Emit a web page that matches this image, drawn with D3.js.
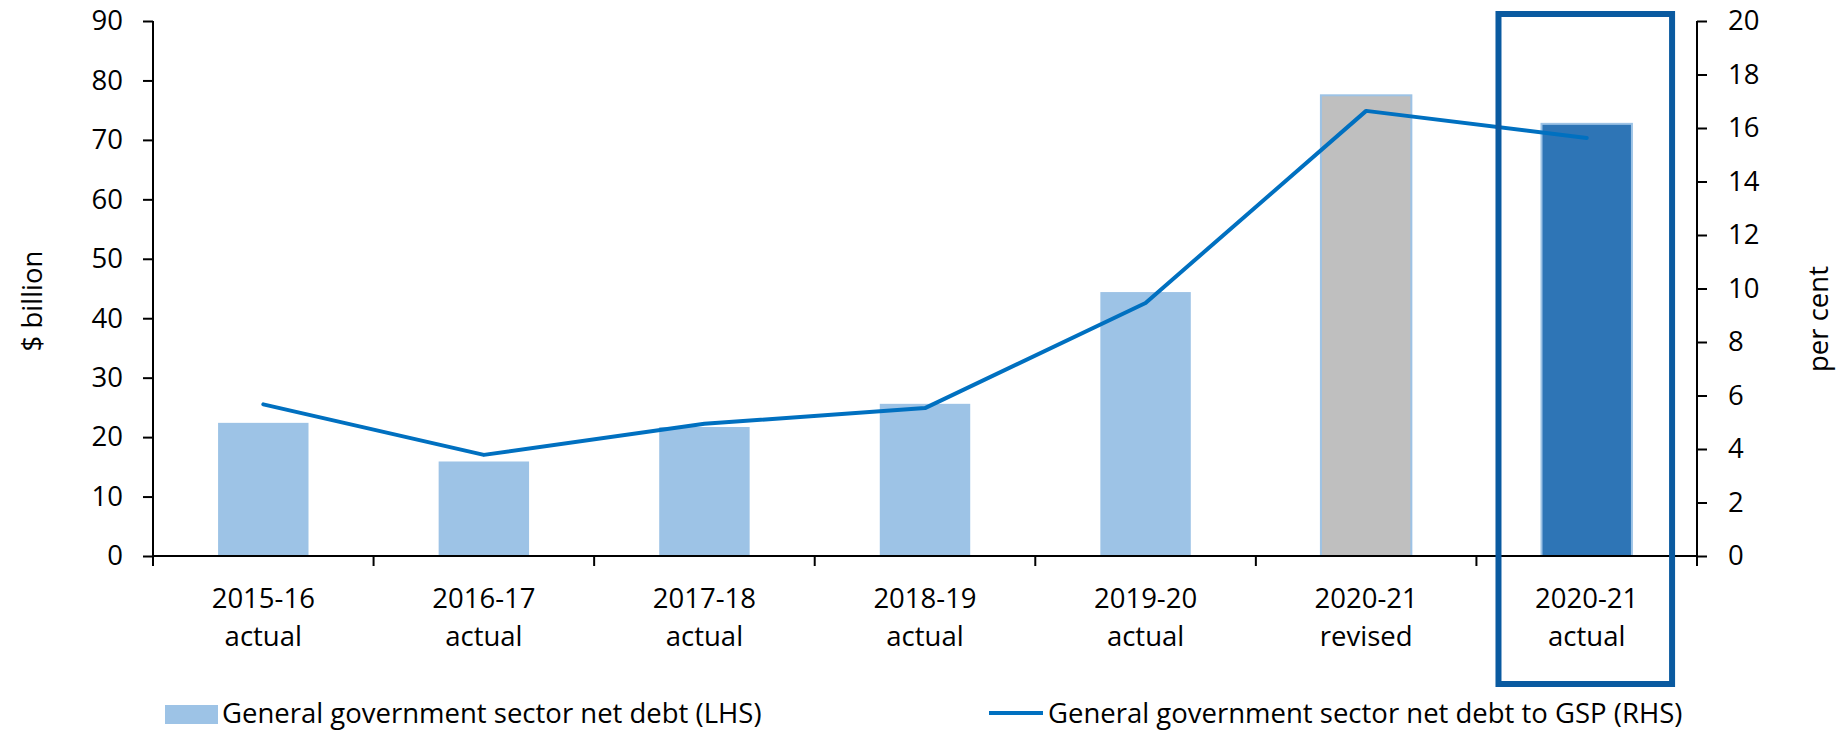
<!DOCTYPE html>
<html>
<head>
<meta charset="utf-8">
<script src="https://cdn.jsdelivr.net/npm/d3@7"></script>
<style>
  body { margin: 0; background: #fff; }
  svg text { font-family: "Open Sans", "Noto Sans", sans-serif; fill: #000; }
</style>
</head>
<body>
<svg id="chart" width="1837" height="731"></svg>
<script>
// Data
const categories = ["2015-16 actual", "2016-17 actual", "2017-18 actual", "2018-19 actual",
                    "2019-20 actual", "2020-21 revised", "2020-21 actual"];
const netDebt = [22.4, 15.9, 21.7, 25.6, 44.4, 77.5, 72.7];          // $ billion (LHS)
const debtToGsp = [5.67, 3.78, 4.94, 5.53, 9.46, 16.64, 15.63];      // per cent (RHS)
const leftTicks = [0, 10, 20, 30, 40, 50, 60, 70, 80, 90];
const rightTicks = [0, 2, 4, 6, 8, 10, 12, 14, 16, 18, 20];
const legendLabels = ["General government sector net debt (LHS)",
                      "General government sector net debt to GSP (RHS)"];

const svg = d3.select("#chart");
const plotLeft = 153, plotRight = 1697, plotTop = 21, plotBottom = 556;
const fontSize = "27.5px";

const x = d3.scaleBand().domain(categories).range([plotLeft, plotRight]);
const yL = d3.scaleLinear().domain([0, 90]).range([plotBottom, plotTop]);
const yR = d3.scaleLinear().domain([0, 20]).range([plotBottom, plotTop]);

// bar colours: actuals light blue, revised grey, latest actual dark blue
function barFill(d, i) {
    if (i === categories.length - 1) return "#2E75B6";
    if (d.endsWith("revised")) return "#BFBFBF";
    return "#9DC3E6";
}

const bw = x.bandwidth();
const barW = bw * 0.41;

// Bars
svg.append("g")
    .selectAll("rect")
    .data(categories)
    .join("rect")
    .attr("x", d => x(d) + (bw - barW) / 2)
    .attr("y", (d, i) => yL(netDebt[i]))
    .attr("width", barW)
    .attr("height", (d, i) => yL(0) - yL(netDebt[i]))
    .attr("fill", barFill)
    .attr("stroke", (d, i) => i >= 5 ? "#9DC3E6" : "none")
    .attr("stroke-width", 2);

// Left axis
const gL = svg.append("g")
    .attr("transform", `translate(${plotLeft},0)`)
    .call(d3.axisLeft(yL).tickValues(leftTicks).tickSize(10).tickPadding(20));

// Right axis
const gR = svg.append("g")
    .attr("transform", `translate(${plotRight},0)`)
    .call(d3.axisRight(yR).tickValues(rightTicks).tickSize(10).tickPadding(21));

// Category axis (ticks at band boundaries)
const gX = svg.append("g")
    .attr("transform", `translate(0,${plotBottom})`);
gX.append("line")
    .attr("x1", plotLeft).attr("x2", plotRight)
    .attr("stroke", "#000").attr("stroke-width", 2);
gX.selectAll("line.tick")
    .data(categories.map(d => x(d)).concat([plotRight]))
    .join("line")
    .attr("class", "tick")
    .attr("x1", d => d).attr("x2", d => d)
    .attr("y1", 0).attr("y2", 10)
    .attr("stroke", "#000").attr("stroke-width", 2);

const catText = gX.selectAll("text")
    .data(categories)
    .join("text")
    .attr("text-anchor", "middle")
    .style("font-size", fontSize);
catText.append("tspan")
    .attr("x", d => x(d) + bw / 2).attr("y", 52)
    .text(d => d.split(" ")[0]);
catText.append("tspan")
    .attr("x", d => x(d) + bw / 2).attr("y", 90)
    .text(d => d.split(" ")[1]);

[gL, gR].forEach(g => {
    g.select(".domain").attr("stroke", "#000").attr("stroke-width", 2);
    g.selectAll(".tick line").attr("stroke", "#000").attr("stroke-width", 2);
    g.selectAll(".tick text").style("font-size", fontSize).attr("fill", "#000");
});
gL.select(".domain").attr("d", `M0,${plotTop}V${plotBottom + 10}`);
gR.select(".domain").attr("d", `M0,${plotTop}V${plotBottom + 10}`);

// Line
const line = d3.line()
    .x((d, i) => x(categories[i]) + bw / 2)
    .y(d => yR(d));
svg.append("path")
    .datum(debtToGsp)
    .attr("d", line)
    .attr("fill", "none")
    .attr("stroke", "#0070C0")
    .attr("stroke-width", 4)
    .attr("stroke-linecap", "round")
    .attr("stroke-linejoin", "round");

// Highlight box around the latest actual
const last = categories[categories.length - 1];
svg.append("rect")
    .attr("x", x(last) + bw * 0.1)
    .attr("y", 14)
    .attr("width", bw * 0.787)
    .attr("height", 670)
    .attr("fill", "none")
    .attr("stroke", "#0A5AA0")
    .attr("stroke-width", 6);

// Axis titles
svg.append("text")
    .attr("transform", "translate(42,301) rotate(-90)")
    .attr("text-anchor", "middle")
    .style("font-size", fontSize)
    .text("$ billion");
svg.append("text")
    .attr("transform", "translate(1828,319) rotate(-90)")
    .attr("text-anchor", "middle")
    .style("font-size", fontSize)
    .text("per cent");

// Legend
const legend = svg.append("g");
legend.append("rect")
    .attr("x", 165).attr("y", 705)
    .attr("width", 53).attr("height", 19)
    .attr("fill", "#9DC3E6");
legend.append("text")
    .attr("x", 222).attr("y", 723)
    .style("font-size", fontSize)
    .text(legendLabels[0]);
legend.append("line")
    .attr("x1", 989).attr("x2", 1043)
    .attr("y1", 713).attr("y2", 713)
    .attr("stroke", "#0070C0").attr("stroke-width", 4);
legend.append("text")
    .attr("x", 1048).attr("y", 723)
    .style("font-size", fontSize)
    .text(legendLabels[1]);
</script>
</body>
</html>
